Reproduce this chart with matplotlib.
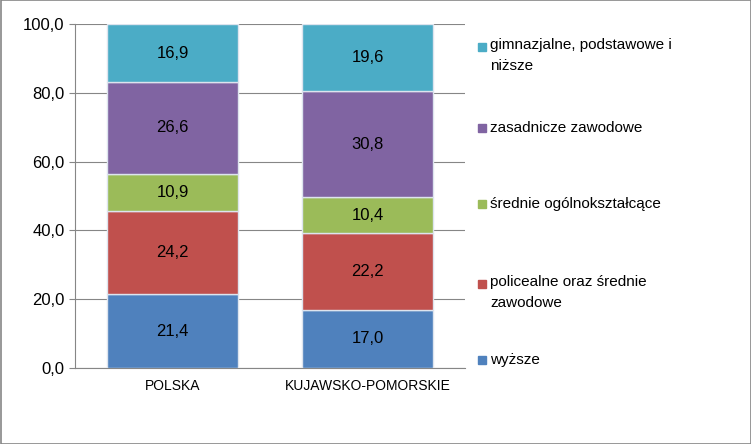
import matplotlib
matplotlib.use("Agg")
import matplotlib.pyplot as plt
from matplotlib.patches import Rectangle
import numpy as np

categories = ["POLSKA", "KUJAWSKO-POMORSKIE"]
series_names = ["wyższe", "policealne oraz średnie\nzawodowe", "średnie ogólnokształcące",
                "zasadnicze zawodowe", "gimnazjalne, podstawowe i\nniższe"]
values = [
    [21.4, 17.0],
    [24.2, 22.2],
    [10.9, 10.4],
    [26.6, 30.8],
    [16.9, 19.6],
]
colors = ["#4F81BD", "#C0504D", "#9BBB59", "#8064A2", "#4BACC6"]
yticks = [0, 20, 40, 60, 80, 100]

plt.rcParams["font.family"] = "Liberation Sans"
W, H = 751, 444
fig = plt.figure(figsize=(W/100, H/100), dpi=100)
ax = fig.add_axes([75/W, 1-368/H, 390/W, 344/H])

x = np.arange(len(categories))
bottom = np.zeros(len(categories))
for vals, c in zip(values, colors):
    vals = np.array(vals)
    ax.bar(x, vals, 0.67, bottom=bottom, color=c, edgecolor="#dde4ee", linewidth=1, zorder=3)
    for xi, b, v in zip(x, bottom, vals):
        ax.text(xi, b + v/2, f"{v:.1f}".replace(".", ","), ha="center", va="center",
                fontsize=12, color="black", zorder=4)
    bottom += vals

ax.set_xlim(-0.5, 1.5)
ax.set_ylim(0, 100)
ax.set_yticks(yticks)
ax.set_yticklabels([f"{t:.1f}".replace(".", ",") for t in yticks], fontsize=12)
ax.set_xticks(x)
ax.set_xticklabels(categories, fontsize=10)
ax.yaxis.grid(True, color="#868686", linewidth=0.8, zorder=0)
for s in ["top", "right"]:
    ax.spines[s].set_visible(False)
ax.spines["left"].set_color("#868686")
ax.spines["bottom"].set_color("#868686")
ax.tick_params(axis="y", length=4, color="#868686")
ax.tick_params(axis="x", length=0, pad=8)

# legend
leg_y = [360, 284, 204, 128, 47]
for name, c, yy in zip(series_names, colors, leg_y):
    fig.patches.append(Rectangle((478/W, 1-(yy+4)/H), 8/W, 8/H, color=c, transform=fig.transFigure))
    fig.text(490/W, 1-yy/H, name, fontsize=11, va="top" if "\n" in name else "center",
             ha="left", linespacing=1.6)
    if "\n" in name:
        fig.texts[-1].set_position((490/W, 1-(yy-9)/H))

fig.patches.append(Rectangle((0.5/W, 0.5/H), 1-1/W, 1-1/H, fill=False, edgecolor="#868686",
                             linewidth=1.2, transform=fig.transFigure))
fig.savefig("out.png", dpi=100)
